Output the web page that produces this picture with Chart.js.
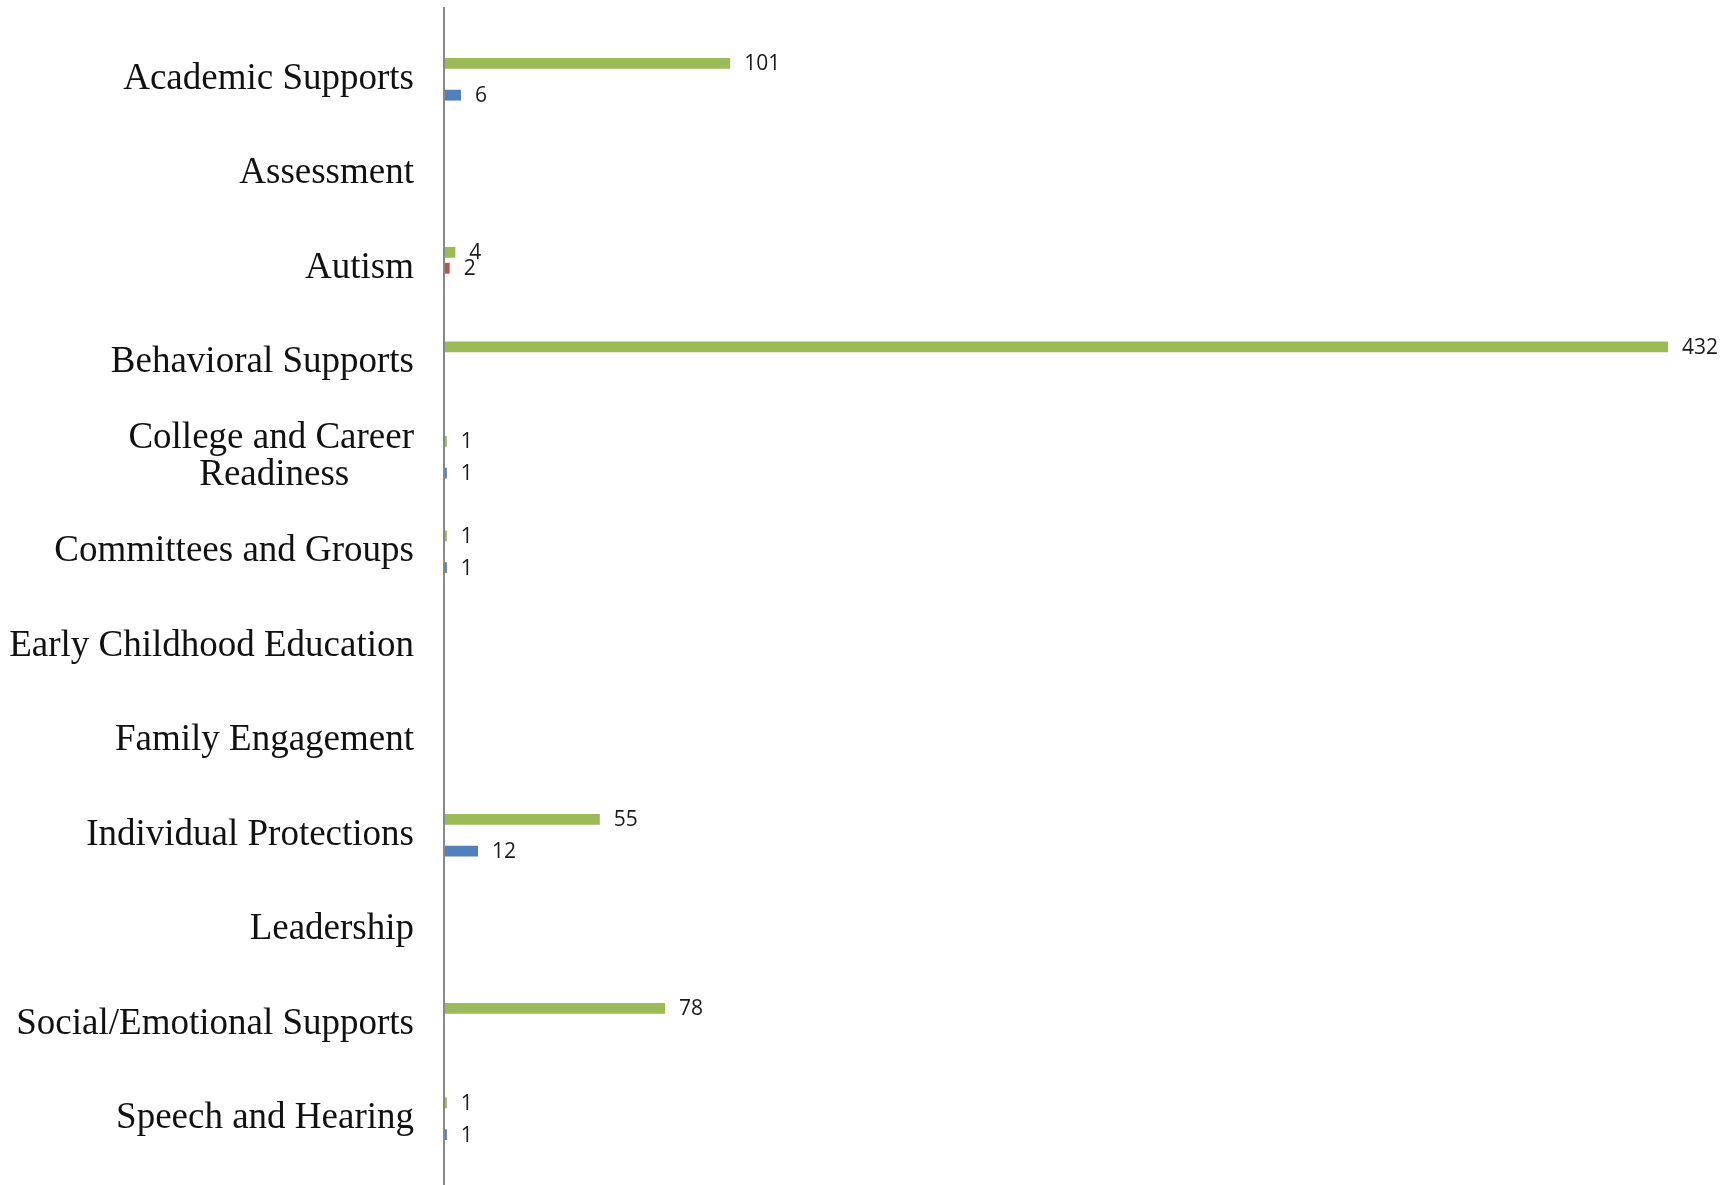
<!DOCTYPE html>
<html>
<head>
<meta charset="utf-8">
<script src="https://cdn.jsdelivr.net/npm/chart.js@4"></script>
<style>
  html, body { margin: 0; padding: 0; background: #fff; }
  #wrap { width: 1733px; height: 1185px; }
</style>
</head>
<body>
<div id="wrap"><canvas id="graph1" width="1733" height="1185"></canvas></div>
<script>
// categories (second line of College label padded so it sits centred under the first)
const categories = [
    'Academic Supports',
    'Assessment',
    'Autism',
    'Behavioral Supports',
    ['College and Career', 'Readiness' + '\u00a0'.repeat(7)],
    'Committees and Groups',
    'Early Childhood Education',
    'Family Engagement',
    'Individual Protections',
    'Leadership',
    'Social/Emotional Supports',
    'Speech and Hearing'
];
const greenValues = [101, 0, 4, 432, 1, 1, 0, 0, 55, 0, 78, 1];
const redValues   = [0, 0, 2, 0, 0, 0, 0, 0, 0, 0, 0, 0];
const blueValues  = [6, 0, 0, 0, 1, 1, 0, 0, 12, 0, 0, 1];

const xMax = 450;

// value labels at the end of each bar
const valueLabels = {
    id: 'valueLabels',
    afterDatasetsDraw(chart) {
        const ctx = chart.ctx;
        ctx.save();
        ctx.font = '21px "Open Sans"';
        ctx.fillStyle = '#1a1a1a';
        ctx.textAlign = 'left';
        ctx.textBaseline = 'middle';
        chart.data.datasets.forEach((ds, i) => {
            const meta = chart.getDatasetMeta(i);
            meta.data.forEach((bar, j) => {
                const v = ds.data[j];
                if (!v) return;
                ctx.fillText(String(v), bar.x + 14, bar.y + 1);
            });
        });
        ctx.restore();
    }
};

// long vertical axis line at zero
const axisLine = {
    id: 'axisLine',
    afterDraw(chart) {
        const ctx = chart.ctx;
        const x = Math.round(chart.scales.x.getPixelForValue(0));
        ctx.save();
        ctx.strokeStyle = '#888888';
        ctx.lineWidth = 2;
        ctx.beginPath();
        ctx.moveTo(x, 7);
        ctx.lineTo(x, chart.height);
        ctx.stroke();
        ctx.restore();
    }
};

const data = {
    labels: categories,
    datasets: [
        { label: 'Series 1', data: greenValues, backgroundColor: '#9BBB59' },
        { label: 'Series 2', data: redValues, backgroundColor: '#C0504D' },
        { label: 'Series 3', data: blueValues, backgroundColor: '#4F81BD' }
    ]
};

const config = {
    type: 'bar',
    data: data,
    options: {
        indexAxis: 'y',
        responsive: false,
        animation: false,
        categoryPercentage: 0.505,
        barPercentage: 0.68,
        layout: { padding: { top: 32, bottom: 19, left: 0, right: 14 } },
        plugins: {
            legend: { display: false },
            tooltip: { enabled: false },
            title: { display: false }
        },
        scales: {
            x: {
                display: false,
                min: 0,
                max: xMax
            },
            y: {
                grid: { display: false, drawTicks: false },
                border: { display: false },
                ticks: {
                    padding: 30,
                    color: '#111',
                    font: { family: '"Liberation Serif"', size: 37, lineHeight: 1.0 },
                    autoSkip: false
                },
                afterFit(scale) {
                    scale.width = 444;
                    scale.paddingTop = 0;
                    scale.paddingBottom = 0;
                }
            }
        }
    },
    plugins: [valueLabels, axisLine]
};

new Chart(document.querySelector('#graph1'), config);
</script>
</body>
</html>
